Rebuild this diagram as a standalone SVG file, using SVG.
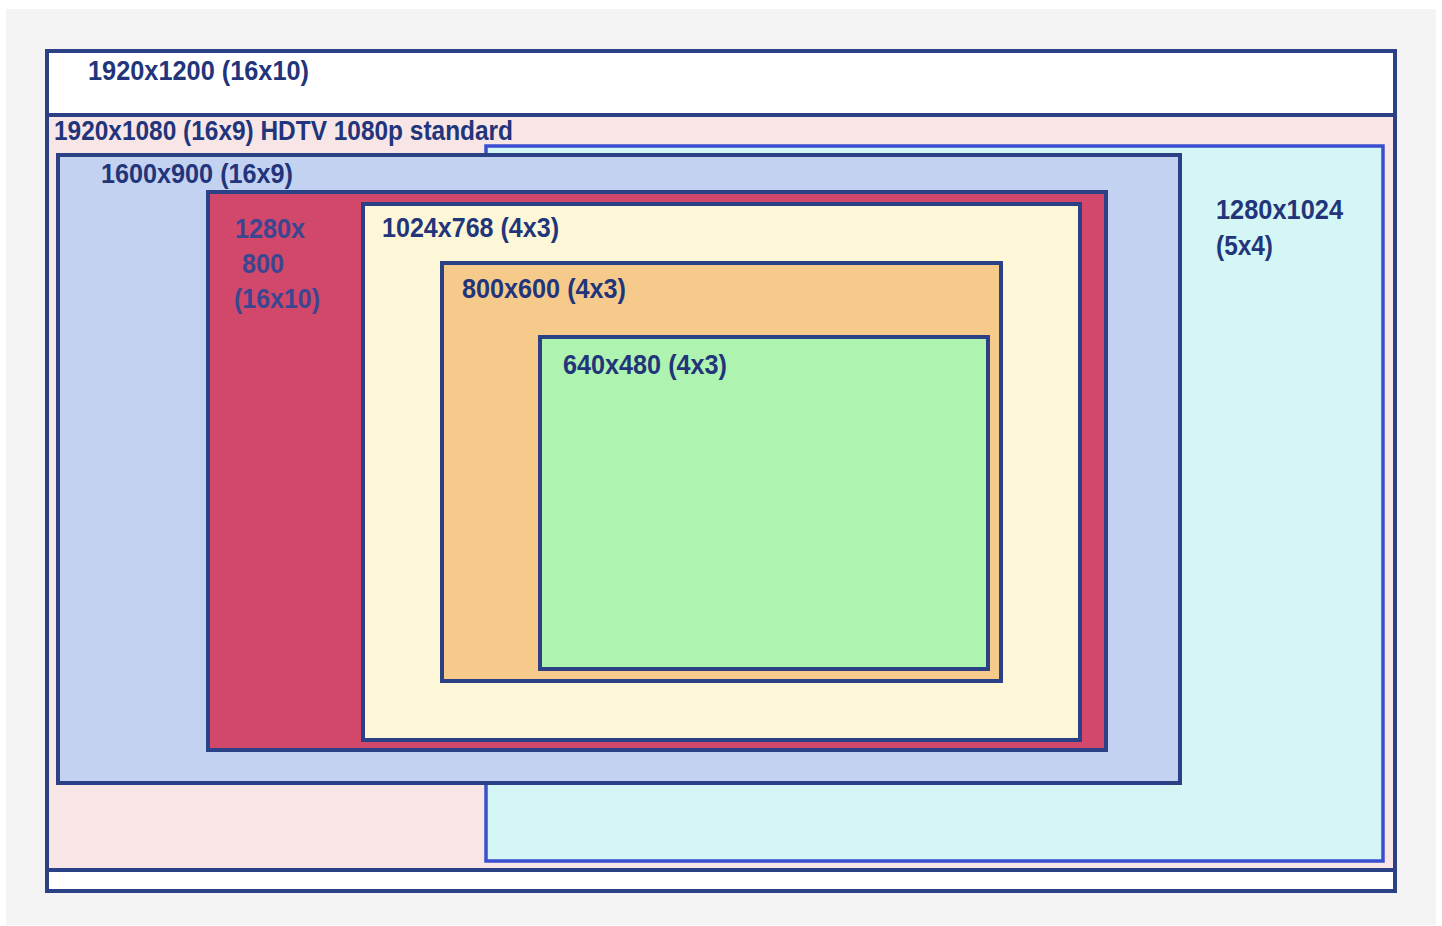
<svg xmlns="http://www.w3.org/2000/svg" width="1442" height="926" viewBox="0 0 1442 926">
<style>
.box{stroke:#2c4185;stroke-width:4}
.lbl{font-family:"Liberation Sans",Arial,sans-serif;font-weight:bold;font-size:27px;fill:#22357a}
</style>
<rect x="0" y="0" width="1442" height="926" fill="#ffffff"/>
<rect x="6" y="9" width="1430" height="916" fill="#f4f4f4"/>
<g id="r1920x1200">
<rect class="box" x="47" y="51" width="1348" height="840" fill="#ffffff"/>
<text class="lbl" x="88" y="80" textLength="221" lengthAdjust="spacingAndGlyphs">1920x1200 (16x10)</text>
</g>
<g id="r1920x1080">
<rect class="box" x="47" y="115" width="1348" height="755" fill="#f8e6e7"/>
<text class="lbl" x="54" y="140" textLength="459" lengthAdjust="spacingAndGlyphs">1920x1080 (16x9) HDTV 1080p standard</text>
</g>
<g id="r1280x1024">
<rect x="486" y="146" width="897" height="715" fill="#d4f6f4" stroke="#3a4fcf" stroke-width="3.5"/>
<text class="lbl" x="1216" y="219" textLength="127" lengthAdjust="spacingAndGlyphs">1280x1024</text>
<text class="lbl" x="1216" y="255" textLength="57" lengthAdjust="spacingAndGlyphs">(5x4)</text>
</g>
<g id="r1600x900">
<rect class="box" x="58" y="155" width="1122" height="628" fill="#c4d2f1"/>
<text class="lbl" x="101" y="183" textLength="192" lengthAdjust="spacingAndGlyphs">1600x900 (16x9)</text>
</g>
<g id="r1280x800">
<rect class="box" x="208" y="192" width="898" height="558" fill="#d2486b"/>
<text class="lbl" x="235" y="238" textLength="70" lengthAdjust="spacingAndGlyphs" style="fill:#3a4690">1280x</text>
<text class="lbl" x="242" y="273" textLength="42" lengthAdjust="spacingAndGlyphs" style="fill:#3a4690">800</text>
<text class="lbl" x="234" y="308" textLength="86" lengthAdjust="spacingAndGlyphs" style="fill:#3a4690">(16x10)</text>
</g>
<g id="r1024x768">
<rect class="box" x="363" y="204" width="717" height="536" fill="#fdf7d7"/>
<text class="lbl" x="382" y="237" textLength="177" lengthAdjust="spacingAndGlyphs">1024x768 (4x3)</text>
</g>
<g id="r800x600">
<rect class="box" x="442" y="263" width="559" height="418" fill="#f6ca8b"/>
<text class="lbl" x="462" y="298" textLength="164" lengthAdjust="spacingAndGlyphs">800x600 (4x3)</text>
</g>
<g id="r640x480">
<rect class="box" x="540" y="337" width="448" height="332" fill="#aef3b0"/>
<text class="lbl" x="563" y="374" textLength="164" lengthAdjust="spacingAndGlyphs">640x480 (4x3)</text>
</g>
<g id="connectors"/>
</svg>
